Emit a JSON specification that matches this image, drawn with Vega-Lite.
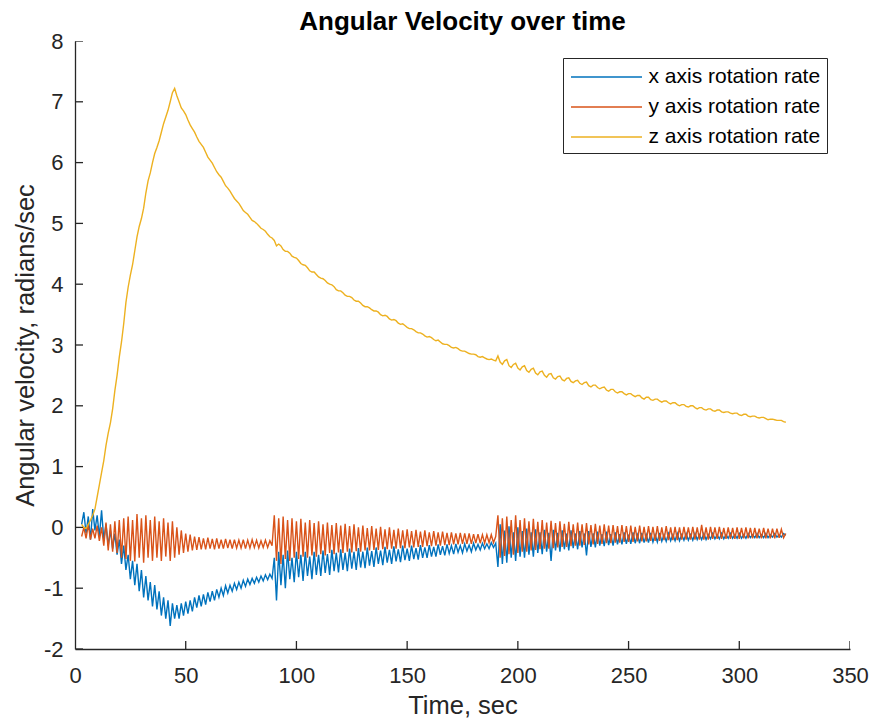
{
  "$schema": "https://vega.github.io/schema/vega-lite/v6.json",
  "autosize": "none",
  "width": 775,
  "height": 608,
  "padding": {"left": 75, "top": 41, "right": 22, "bottom": 77},
  "background": "white",
  "config": {
    "view": {"stroke": null},
    "font": "Liberation Sans",
    "axis": {"grid": false, "ticks": false, "labelFlush": false, "domainColor": "#262626", "domainWidth": 1.3, "labelColor": "#262626", "titleColor": "#262626", "labelFont": "Liberation Sans", "titleFont": "Liberation Sans", "labelFontSize": 22, "titleFontSize": 25.5, "titleFontWeight": "normal"}
  },
  "title": {"text": "Angular Velocity over time", "fontSize": 26, "fontWeight": "bold", "font": "Liberation Sans", "color": "#000000", "offset": -5},
  "layer": [
  {
  "data": {"values": [
{"t":3,"x":0.05,"y":-0.15,"z":0.05},{"t":4,"x":0.25,"y":0.0,"z":0.0},{"t":5,"x":-0.1,"y":-0.18,"z":-0.02},{"t":6,"x":0.18,"y":0.05,"z":0.05},{"t":7,"x":-0.2,"y":-0.2,"z":0.12},{"t":8,"x":0.3,"y":-0.02,"z":0.2},{"t":9,"x":-0.05,"y":-0.18,"z":0.3},{"t":10,"x":0.2,"y":0.03,"z":0.5},{"t":11,"x":-0.15,"y":-0.22,"z":0.7},{"t":12,"x":0.28,"y":0.0,"z":0.9},
{"t":13,"x":-0.2,"y":-0.3,"z":1.1},{"t":14,"x":0.05,"y":0.08,"z":1.35},{"t":15,"x":-0.3,"y":-0.38,"z":1.55},{"t":16,"x":-0.05,"y":0.05,"z":1.72},{"t":17,"x":-0.35,"y":-0.4,"z":1.95},{"t":18,"x":-0.1,"y":0.1,"z":2.25},{"t":19,"x":-0.45,"y":-0.42,"z":2.5},{"t":20,"x":-0.2,"y":0.12,"z":2.8},
{"t":21,"x":-0.6,"y":-0.5,"z":3.05},{"t":22,"x":-0.3,"y":0.15,"z":3.35},{"t":23,"x":-0.7,"y":-0.52,"z":3.7},{"t":24,"x":-0.45,"y":0.18,"z":3.95},{"t":25,"x":-0.85,"y":-0.55,"z":4.15},{"t":26,"x":-0.55,"y":0.12,"z":4.32},{"t":27,"x":-0.95,"y":-0.56,"z":4.55},{"t":28,"x":-0.6,"y":0.22,"z":4.78},{"t":29,"x":-1.05,"y":-0.5,"z":4.95},{"t":30,"x":-0.7,"y":0.15,"z":5.08},
{"t":31,"x":-1.15,"y":-0.58,"z":5.25},{"t":32,"x":-0.8,"y":0.2,"z":5.5},{"t":33,"x":-1.2,"y":-0.5,"z":5.7},{"t":34,"x":-0.9,"y":0.12,"z":5.83},{"t":35,"x":-1.3,"y":-0.55,"z":6.0},{"t":36,"x":-0.95,"y":0.18,"z":6.15},{"t":37,"x":-1.35,"y":-0.5,"z":6.25},{"t":38,"x":-1.05,"y":0.1,"z":6.36},{"t":39,"x":-1.45,"y":-0.55,"z":6.5},{"t":40,"x":-1.15,"y":0.15,"z":6.64},
{"t":41,"x":-1.5,"y":-0.48,"z":6.75},{"t":42,"x":-1.2,"y":0.08,"z":6.86},{"t":43,"x":-1.62,"y":-0.55,"z":7.0},{"t":44,"x":-1.25,"y":0.1,"z":7.15},{"t":45,"x":-1.5,"y":-0.5,"z":7.22},{"t":46,"x":-1.28,"y":0.0,"z":7.1},{"t":47,"x":-1.5,"y":-0.45,"z":7.0},{"t":48,"x":-1.25,"y":-0.05,"z":6.9},{"t":49,"x":-1.45,"y":-0.42,"z":6.85},{"t":50,"x":-1.22,"y":-0.1,"z":6.79},
{"t":51,"x":-1.42,"y":-0.4,"z":6.7},{"t":52,"x":-1.2,"y":-0.12,"z":6.62},{"t":53,"x":-1.38,"y":-0.38,"z":6.56},{"t":54,"x":-1.15,"y":-0.15,"z":6.5},{"t":55,"x":-1.32,"y":-0.37,"z":6.42},{"t":56,"x":-1.12,"y":-0.16,"z":6.35},{"t":57,"x":-1.3,"y":-0.36,"z":6.3},{"t":58,"x":-1.1,"y":-0.18,"z":6.25},{"t":59,"x":-1.27,"y":-0.36,"z":6.17},{"t":60,"x":-1.07,"y":-0.17,"z":6.09},
{"t":61,"x":-1.22,"y":-0.35,"z":6.04},{"t":62,"x":-1.05,"y":-0.19,"z":5.99},{"t":63,"x":-1.2,"y":-0.36,"z":5.92},{"t":64,"x":-1.02,"y":-0.18,"z":5.85},{"t":65,"x":-1.15,"y":-0.35,"z":5.8},{"t":66,"x":-1.0,"y":-0.2,"z":5.76},{"t":67,"x":-1.12,"y":-0.35,"z":5.69},{"t":68,"x":-0.96,"y":-0.19,"z":5.62},{"t":69,"x":-1.08,"y":-0.34,"z":5.58},{"t":70,"x":-0.95,"y":-0.2,"z":5.53},
{"t":71,"x":-1.05,"y":-0.35,"z":5.47},{"t":72,"x":-0.92,"y":-0.2,"z":5.41},{"t":73,"x":-1.02,"y":-0.34,"z":5.37},{"t":74,"x":-0.9,"y":-0.21,"z":5.33},{"t":75,"x":-1.0,"y":-0.34,"z":5.27},{"t":76,"x":-0.87,"y":-0.2,"z":5.21},{"t":77,"x":-0.97,"y":-0.35,"z":5.18},{"t":78,"x":-0.85,"y":-0.21,"z":5.15},{"t":79,"x":-0.94,"y":-0.34,"z":5.1},{"t":80,"x":-0.84,"y":-0.2,"z":5.05},
{"t":81,"x":-0.92,"y":-0.33,"z":5.03},{"t":82,"x":-0.82,"y":-0.21,"z":5.0},{"t":83,"x":-0.9,"y":-0.34,"z":4.96},{"t":84,"x":-0.8,"y":-0.22,"z":4.92},{"t":85,"x":-0.88,"y":-0.33,"z":4.9},{"t":86,"x":-0.78,"y":-0.21,"z":4.87},{"t":87,"x":-0.86,"y":-0.33,"z":4.82},{"t":88,"x":-0.77,"y":-0.22,"z":4.78},{"t":89,"x":-0.84,"y":-0.3,"z":4.76},{"t":90,"x":-0.5,"y":0.2,"z":4.72},
{"t":91,"x":-1.2,"y":-0.55,"z":4.63},{"t":92,"x":-0.4,"y":0.15,"z":4.66},{"t":93,"x":-0.95,"y":-0.6,"z":4.63},{"t":94,"x":-0.45,"y":0.18,"z":4.57},{"t":95,"x":-1.0,"y":-0.52,"z":4.54},{"t":96,"x":-0.38,"y":0.12,"z":4.54},{"t":97,"x":-0.85,"y":-0.55,"z":4.51},{"t":98,"x":-0.5,"y":0.15,"z":4.46},{"t":99,"x":-0.9,"y":-0.5,"z":4.44},{"t":100,"x":-0.4,"y":0.1,"z":4.43},
{"t":101,"x":-0.82,"y":-0.52,"z":4.39},{"t":102,"x":-0.45,"y":0.14,"z":4.34},{"t":103,"x":-0.88,"y":-0.48,"z":4.32},{"t":104,"x":-0.4,"y":0.08,"z":4.31},{"t":105,"x":-0.8,"y":-0.5,"z":4.27},{"t":106,"x":-0.48,"y":0.12,"z":4.22},{"t":107,"x":-0.85,"y":-0.46,"z":4.2},{"t":108,"x":-0.4,"y":0.07,"z":4.2},{"t":109,"x":-0.78,"y":-0.48,"z":4.16},{"t":110,"x":-0.45,"y":0.1,"z":4.12},
{"t":111,"x":-0.8,"y":-0.44,"z":4.1},{"t":112,"x":-0.38,"y":0.05,"z":4.09},{"t":113,"x":-0.75,"y":-0.46,"z":4.06},{"t":114,"x":-0.44,"y":0.08,"z":4.02},{"t":115,"x":-0.78,"y":-0.42,"z":4.0},{"t":116,"x":-0.37,"y":0.04,"z":3.99},{"t":117,"x":-0.72,"y":-0.44,"z":3.96},{"t":118,"x":-0.42,"y":0.07,"z":3.91},{"t":119,"x":-0.74,"y":-0.41,"z":3.89},{"t":120,"x":-0.36,"y":0.03,"z":3.89},
{"t":121,"x":-0.7,"y":-0.42,"z":3.86},{"t":122,"x":-0.42,"y":0.06,"z":3.82},{"t":123,"x":-0.72,"y":-0.4,"z":3.8},{"t":124,"x":-0.35,"y":0.02,"z":3.8},{"t":125,"x":-0.68,"y":-0.41,"z":3.78},{"t":126,"x":-0.4,"y":0.05,"z":3.74},{"t":127,"x":-0.7,"y":-0.39,"z":3.72},{"t":128,"x":-0.34,"y":0.0,"z":3.72},{"t":129,"x":-0.66,"y":-0.4,"z":3.69},{"t":130,"x":-0.4,"y":0.03,"z":3.65},
{"t":131,"x":-0.67,"y":-0.38,"z":3.63},{"t":132,"x":-0.33,"y":-0.01,"z":3.63},{"t":133,"x":-0.63,"y":-0.38,"z":3.61},{"t":134,"x":-0.39,"y":0.02,"z":3.58},{"t":135,"x":-0.65,"y":-0.37,"z":3.56},{"t":136,"x":-0.33,"y":-0.02,"z":3.56},{"t":137,"x":-0.6,"y":-0.37,"z":3.54},{"t":138,"x":-0.38,"y":0.01,"z":3.5},{"t":139,"x":-0.62,"y":-0.36,"z":3.48},{"t":140,"x":-0.32,"y":-0.03,"z":3.49},
{"t":141,"x":-0.58,"y":-0.36,"z":3.47},{"t":142,"x":-0.37,"y":0.0,"z":3.43},{"t":143,"x":-0.6,"y":-0.35,"z":3.41},{"t":144,"x":-0.31,"y":-0.04,"z":3.42},{"t":145,"x":-0.56,"y":-0.35,"z":3.4},{"t":146,"x":-0.36,"y":-0.02,"z":3.36},{"t":147,"x":-0.57,"y":-0.34,"z":3.34},{"t":148,"x":-0.3,"y":-0.05,"z":3.35},{"t":149,"x":-0.54,"y":-0.34,"z":3.32},{"t":150,"x":-0.35,"y":-0.03,"z":3.29},
{"t":151,"x":-0.55,"y":-0.33,"z":3.27},{"t":152,"x":-0.3,"y":-0.06,"z":3.27},{"t":153,"x":-0.52,"y":-0.33,"z":3.25},{"t":154,"x":-0.34,"y":-0.04,"z":3.22},{"t":155,"x":-0.53,"y":-0.32,"z":3.2},{"t":156,"x":-0.29,"y":-0.07,"z":3.2},{"t":157,"x":-0.5,"y":-0.32,"z":3.18},{"t":158,"x":-0.33,"y":-0.05,"z":3.15},{"t":159,"x":-0.5,"y":-0.31,"z":3.13},{"t":160,"x":-0.29,"y":-0.08,"z":3.14},
{"t":161,"x":-0.48,"y":-0.31,"z":3.12},{"t":162,"x":-0.32,"y":-0.06,"z":3.09},{"t":163,"x":-0.48,"y":-0.3,"z":3.07},{"t":164,"x":-0.28,"y":-0.08,"z":3.08},{"t":165,"x":-0.45,"y":-0.3,"z":3.05},{"t":166,"x":-0.31,"y":-0.07,"z":3.02},{"t":167,"x":-0.46,"y":-0.29,"z":3.01},{"t":168,"x":-0.28,"y":-0.09,"z":3.01},{"t":169,"x":-0.43,"y":-0.29,"z":2.99},{"t":170,"x":-0.3,"y":-0.08,"z":2.96},
{"t":171,"x":-0.44,"y":-0.28,"z":2.95},{"t":172,"x":-0.27,"y":-0.1,"z":2.96},{"t":173,"x":-0.41,"y":-0.28,"z":2.94},{"t":174,"x":-0.3,"y":-0.09,"z":2.91},{"t":175,"x":-0.42,"y":-0.27,"z":2.9},{"t":176,"x":-0.27,"y":-0.1,"z":2.9},{"t":177,"x":-0.39,"y":-0.27,"z":2.88},{"t":178,"x":-0.29,"y":-0.1,"z":2.86},{"t":179,"x":-0.4,"y":-0.27,"z":2.85},{"t":180,"x":-0.26,"y":-0.11,"z":2.85},
{"t":181,"x":-0.37,"y":-0.26,"z":2.84},{"t":182,"x":-0.28,"y":-0.11,"z":2.81},{"t":183,"x":-0.37,"y":-0.26,"z":2.8},{"t":184,"x":-0.26,"y":-0.12,"z":2.81},{"t":185,"x":-0.35,"y":-0.26,"z":2.79},{"t":186,"x":-0.27,"y":-0.12,"z":2.77},{"t":187,"x":-0.35,"y":-0.25,"z":2.76},{"t":188,"x":-0.25,"y":-0.12,"z":2.77},{"t":189,"x":-0.33,"y":-0.25,"z":2.75},{"t":190,"x":-0.26,"y":-0.15,"z":2.74},
{"t":191,"x":-0.65,"y":0.2,"z":2.82},{"t":192,"x":0.05,"y":-0.5,"z":2.72},{"t":193,"x":-0.6,"y":0.15,"z":2.68},{"t":194,"x":-0.05,"y":-0.47,"z":2.74},{"t":195,"x":-0.58,"y":0.18,"z":2.76},{"t":196,"x":0.02,"y":-0.44,"z":2.66},{"t":197,"x":-0.5,"y":0.12,"z":2.63},{"t":198,"x":-0.08,"y":-0.45,"z":2.68},{"t":199,"x":-0.55,"y":0.2,"z":2.7},{"t":200,"x":0.0,"y":-0.42,"z":2.62},
{"t":201,"x":-0.48,"y":0.12,"z":2.59},{"t":202,"x":-0.06,"y":-0.4,"z":2.64},{"t":203,"x":-0.5,"y":0.15,"z":2.66},{"t":204,"x":-0.02,"y":-0.4,"z":2.58},{"t":205,"x":-0.45,"y":0.1,"z":2.55},{"t":206,"x":-0.08,"y":-0.38,"z":2.6},{"t":207,"x":-0.48,"y":0.14,"z":2.62},{"t":208,"x":-0.03,"y":-0.37,"z":2.54},{"t":209,"x":-0.42,"y":0.09,"z":2.51},{"t":210,"x":-0.08,"y":-0.36,"z":2.56},
{"t":211,"x":-0.44,"y":0.12,"z":2.57},{"t":212,"x":-0.04,"y":-0.35,"z":2.5},{"t":213,"x":-0.4,"y":0.08,"z":2.47},{"t":214,"x":-0.09,"y":-0.35,"z":2.52},{"t":215,"x":-0.55,"y":0.11,"z":2.53},{"t":216,"x":-0.04,"y":-0.34,"z":2.46},{"t":217,"x":-0.38,"y":0.07,"z":2.44},{"t":218,"x":-0.09,"y":-0.33,"z":2.48},{"t":219,"x":-0.4,"y":0.1,"z":2.49},{"t":220,"x":-0.05,"y":-0.32,"z":2.43},
{"t":221,"x":-0.36,"y":0.06,"z":2.41},{"t":222,"x":-0.1,"y":-0.32,"z":2.45},{"t":223,"x":-0.38,"y":0.09,"z":2.46},{"t":224,"x":-0.05,"y":-0.31,"z":2.4},{"t":225,"x":-0.34,"y":0.05,"z":2.38},{"t":226,"x":-0.1,"y":-0.3,"z":2.41},{"t":227,"x":-0.36,"y":0.08,"z":2.42},{"t":228,"x":-0.06,"y":-0.3,"z":2.37},{"t":229,"x":-0.33,"y":0.05,"z":2.35},{"t":230,"x":-0.1,"y":-0.29,"z":2.38},
{"t":231,"x":-0.46,"y":0.07,"z":2.39},{"t":232,"x":-0.06,"y":-0.28,"z":2.33},{"t":233,"x":-0.32,"y":0.04,"z":2.31},{"t":234,"x":-0.1,"y":-0.28,"z":2.34},{"t":235,"x":-0.33,"y":0.06,"z":2.34},{"t":236,"x":-0.07,"y":-0.27,"z":2.3},{"t":237,"x":-0.3,"y":0.03,"z":2.28},{"t":238,"x":-0.11,"y":-0.27,"z":2.3},{"t":239,"x":-0.31,"y":0.05,"z":2.31},{"t":240,"x":-0.07,"y":-0.26,"z":2.26},
{"t":241,"x":-0.29,"y":0.03,"z":2.24},{"t":242,"x":-0.11,"y":-0.26,"z":2.27},{"t":243,"x":-0.3,"y":0.04,"z":2.27},{"t":244,"x":-0.08,"y":-0.25,"z":2.23},{"t":245,"x":-0.28,"y":0.02,"z":2.21},{"t":246,"x":-0.11,"y":-0.25,"z":2.23},{"t":247,"x":-0.28,"y":0.04,"z":2.23},{"t":248,"x":-0.08,"y":-0.24,"z":2.2},{"t":249,"x":-0.27,"y":0.02,"z":2.18},{"t":250,"x":-0.12,"y":-0.24,"z":2.2},
{"t":251,"x":-0.27,"y":0.03,"z":2.2},{"t":252,"x":-0.08,"y":-0.24,"z":2.17},{"t":253,"x":-0.26,"y":0.01,"z":2.15},{"t":254,"x":-0.12,"y":-0.23,"z":2.17},{"t":255,"x":-0.26,"y":0.03,"z":2.17},{"t":256,"x":-0.09,"y":-0.23,"z":2.13},{"t":257,"x":-0.25,"y":0.01,"z":2.11},{"t":258,"x":-0.12,"y":-0.23,"z":2.14},{"t":259,"x":-0.25,"y":0.02,"z":2.14},{"t":260,"x":-0.09,"y":-0.22,"z":2.1},
{"t":261,"x":-0.24,"y":0.01,"z":2.09},{"t":262,"x":-0.12,"y":-0.22,"z":2.11},{"t":263,"x":-0.24,"y":0.02,"z":2.11},{"t":264,"x":-0.09,"y":-0.22,"z":2.08},{"t":265,"x":-0.23,"y":0.0,"z":2.06},{"t":266,"x":-0.12,"y":-0.21,"z":2.08},{"t":267,"x":-0.23,"y":0.02,"z":2.08},{"t":268,"x":-0.1,"y":-0.21,"z":2.05},{"t":269,"x":-0.22,"y":0.0,"z":2.03},{"t":270,"x":-0.12,"y":-0.21,"z":2.05},
{"t":271,"x":-0.22,"y":0.01,"z":2.05},{"t":272,"x":-0.1,"y":-0.21,"z":2.02},{"t":273,"x":-0.22,"y":0.0,"z":2.0},{"t":274,"x":-0.12,"y":-0.2,"z":2.02},{"t":275,"x":-0.21,"y":0.01,"z":2.02},{"t":276,"x":-0.1,"y":-0.2,"z":1.99},{"t":277,"x":-0.21,"y":0.0,"z":1.98},{"t":278,"x":-0.12,"y":-0.2,"z":2.0},{"t":279,"x":-0.21,"y":0.01,"z":2.0},{"t":280,"x":-0.1,"y":-0.2,"z":1.97},
{"t":281,"x":-0.2,"y":0.0,"z":1.95},{"t":282,"x":-0.12,"y":-0.2,"z":1.97},{"t":283,"x":-0.2,"y":0.04,"z":1.97},{"t":284,"x":-0.1,"y":-0.2,"z":1.94},{"t":285,"x":-0.2,"y":0.0,"z":1.93},{"t":286,"x":-0.12,"y":-0.2,"z":1.95},{"t":287,"x":-0.19,"y":0.01,"z":1.95},{"t":288,"x":-0.1,"y":-0.19,"z":1.92},{"t":289,"x":-0.19,"y":0.0,"z":1.91},{"t":290,"x":-0.12,"y":-0.19,"z":1.93},
{"t":291,"x":-0.19,"y":0.01,"z":1.93},{"t":292,"x":-0.1,"y":-0.19,"z":1.9},{"t":293,"x":-0.19,"y":-0.01,"z":1.89},{"t":294,"x":-0.12,"y":-0.19,"z":1.9},{"t":295,"x":-0.18,"y":0.0,"z":1.9},{"t":296,"x":-0.1,"y":-0.19,"z":1.88},{"t":297,"x":-0.18,"y":-0.01,"z":1.87},{"t":298,"x":-0.12,"y":-0.19,"z":1.88},{"t":299,"x":-0.18,"y":0.0,"z":1.88},{"t":300,"x":-0.1,"y":-0.19,"z":1.85},
{"t":301,"x":-0.18,"y":-0.01,"z":1.84},{"t":302,"x":-0.12,"y":-0.18,"z":1.86},{"t":303,"x":-0.18,"y":0.0,"z":1.86},{"t":304,"x":-0.1,"y":-0.18,"z":1.83},{"t":305,"x":-0.17,"y":-0.01,"z":1.82},{"t":306,"x":-0.12,"y":-0.18,"z":1.83},{"t":307,"x":-0.17,"y":-0.01,"z":1.83},{"t":308,"x":-0.1,"y":-0.18,"z":1.81},{"t":309,"x":-0.17,"y":-0.02,"z":1.8},{"t":310,"x":-0.12,"y":-0.18,"z":1.81},
{"t":311,"x":-0.17,"y":-0.01,"z":1.81},{"t":312,"x":-0.1,"y":-0.18,"z":1.79},{"t":313,"x":-0.17,"y":-0.02,"z":1.77},{"t":314,"x":-0.12,"y":-0.18,"z":1.78},{"t":315,"x":-0.16,"y":-0.02,"z":1.78},{"t":316,"x":-0.1,"y":-0.18,"z":1.77},{"t":317,"x":-0.16,"y":-0.02,"z":1.76},{"t":318,"x":-0.12,"y":-0.17,"z":1.76},{"t":319,"x":-0.16,"y":-0.03,"z":1.76},{"t":320,"x":-0.1,"y":-0.17,"z":1.74},
{"t":321,"x":-0.13,"y":-0.1,"z":1.73}
  ]},
  "transform": [{"fold": ["x", "y", "z"], "as": ["axis", "v"]}],
  "mark": {"type": "line", "strokeWidth": 1.4, "interpolate": "linear"},
  "encoding": {
    "x": {"field": "t", "type": "quantitative", "scale": {"domain": [0, 350], "nice": false},
          "axis": {"title": "Time, sec", "values": [0,50,100,150,200,250,300,350], "labelPadding": 16, "titlePadding": 7}},
    "y": {"field": "v", "type": "quantitative", "scale": {"domain": [-2, 8], "nice": false},
          "axis": {"title": "Angular velocity, radians/sec", "values": [-2,-1,0,1,2,3,4,5,6,7,8], "labelExpr": "'' + datum.value", "labelPadding": 12, "titlePadding": 5}},
    "color": {"field": "axis", "type": "nominal",
      "scale": {"domain": ["x", "y", "z"], "range": ["#0072BD", "#D95319", "#EDB120"]},
      "legend": {"title": null, "orient": "none", "legendX": 488, "legendY": 17,
        "labelExpr": "datum.label + ' axis rotation rate'", "labelLimit": 0,
        "labelFontSize": 21, "labelFont": "Liberation Sans", "labelColor": "#000000",
        "symbolType": "M-3,0H3", "symbolSize": 560, "symbolStrokeWidth": 1.5, "symbolOffset": 24.5,
        "strokeColor": "#262626", "fillColor": "white", "padding": 6, "rowPadding": 7, "labelOffset": 29}}
  }
  },
  {
    "data": {"values": [{"t":0},{"t":50},{"t":100},{"t":150},{"t":200},{"t":250},{"t":300},{"t":350}]},
    "mark": {"type": "tick", "orient": "vertical", "size": 16, "thickness": 1.3, "color": "#262626", "opacity": 1, "clip": true},
    "encoding": {
      "x": {"field": "t", "type": "quantitative", "title": "Time, sec"},
      "y": {"datum": -2, "type": "quantitative", "title": "Angular velocity, radians/sec"}
    }
  },
  {
    "data": {"values": [{"v":-2},{"v":-1},{"v":0},{"v":1},{"v":2},{"v":3},{"v":4},{"v":5},{"v":6},{"v":7},{"v":8}]},
    "mark": {"type": "tick", "orient": "horizontal", "size": 16, "thickness": 1.3, "color": "#262626", "opacity": 1, "clip": true},
    "encoding": {
      "x": {"datum": 0, "type": "quantitative", "title": "Time, sec"},
      "y": {"field": "v", "type": "quantitative", "title": "Angular velocity, radians/sec"}
    }
  }
  ]
}
